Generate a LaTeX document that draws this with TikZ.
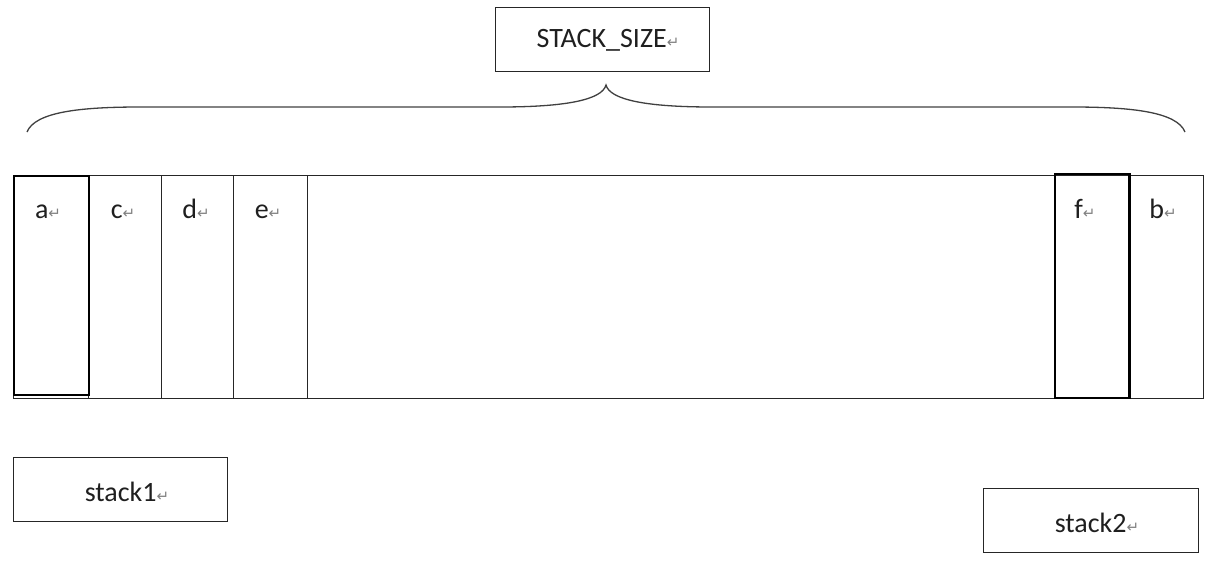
\documentclass[tikz,border=0pt]{standalone}
\usepackage{fontspec}
\setmainfont{Carlito}
\newfontfamily\symfont{DejaVu Sans}
\newcommand\parmark{{\symfont\fontsize{15}{17}\selectfont\textcolor{black!50}{↵}}}
\begin{document}
\begin{tikzpicture}[x=1pt,y=-1pt,
  box/.style={draw=black!85, line width=1.2pt, inner sep=0pt, anchor=north west},
  thickbox/.style={box, draw=black, line width=2pt},
  lbl/.style={font=\fontsize{28}{33}\selectfont, text=black!88, inner sep=0pt, anchor=base},
  bracestyle/.style={draw=black!75, line width=1.3pt}]
\useasboundingbox (0,0) rectangle (1211,560);
% top label
\node[box, minimum width=214pt, minimum height=64pt] (size) at (495,7) {};
\node[lbl] (sizet) at (608,47) {STACK\_SIZE\parmark};
% brace
\draw[bracestyle] (27,132) .. controls (35,112) and (80,107) .. (140,107)
  -- (500,107) .. controls (565,107) and (602,100) .. (606,85)
  .. controls (610,100) and (647,107) .. (712,107)
  -- (1072,107) .. controls (1132,107) and (1177,112) .. (1185,132);
% bar and cells
\node[box, minimum width=1190pt, minimum height=223pt] (bar) at (13,175) {};
\node[box, minimum width=73pt, minimum height=223pt] (c) at (88,175) {};
\node[box, minimum width=72pt, minimum height=223pt] (d) at (161,175) {};
\node[box, minimum width=74pt, minimum height=223pt] (e) at (233,175) {};
\node[box, minimum width=75pt, minimum height=223pt] (b) at (1128,175) {};
\node[thickbox, minimum width=75pt, minimum height=219pt] (a) at (13,175) {};
\node[box, draw=black, line width=1.6pt, minimum width=74pt, minimum height=224pt] (f) at (1054,173) {};
\draw[black, line width=2.2pt] (f.north east) -- (f.south east);
% cell labels
\node[lbl] (la) at (48,218) {a\parmark};
\node[lbl] (lc) at (123,218) {c\parmark};
\node[lbl] (ld) at (196,218) {d\parmark};
\node[lbl] (le) at (268,218) {e\parmark};
\node[lbl] (lf) at (1085,218) {f\parmark};
\node[lbl] (lb) at (1163,218) {b\parmark};
% stack boxes
\node[box, minimum width=214pt, minimum height=64pt] (s1) at (13,457) {};
\node[lbl] (s1t) at (127,501) {stack1\parmark};
\node[box, minimum width=215pt, minimum height=64pt] (s2) at (983,488) {};
\node[lbl] (s2t) at (1097,532) {stack2\parmark};
\end{tikzpicture}
\end{document}
